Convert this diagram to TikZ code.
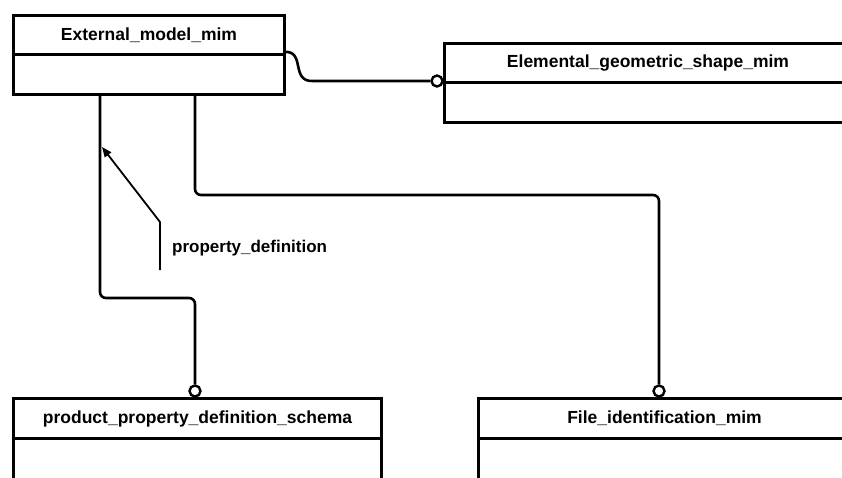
\documentclass[tikz,border=0pt]{standalone}
\usepackage{fontspec}
\setmainfont{Liberation Sans}
\usetikzlibrary{arrows.meta}
\begin{document}
\begin{tikzpicture}[x=1pt,y=-1pt,
  hdr/.style={draw=black,line width=3pt,rectangle,inner sep=0pt,anchor=north west,
    font=\fontsize{17.5}{19}\selectfont\bfseries},
  bdy/.style={draw=black,line width=3pt,rectangle,inner sep=0pt,anchor=north west},
  link/.style={draw=black,line width=2.6pt,rounded corners=6pt},
  ring/.style={circle,draw=black,fill=white,line width=2.4pt,inner sep=0pt,minimum size=11pt},
  lbl/.style={font=\fontsize{17}{19}\selectfont\bfseries,inner sep=0pt,anchor=west}]
\useasboundingbox (0,0) rectangle (842,477);
\fill[white] (0,0) rectangle (842,477);
% External_model_mim
\node[bdy,minimum width=271pt,minimum height=40pt] (extb) at (12,53) {};
\node[hdr,minimum width=271pt,minimum height=39pt] (ext) at (12,14) {External\_model\_mim};
% Elemental_geometric_shape_mim
\node[bdy,minimum width=407pt,minimum height=40pt] (egb) at (443,81) {};
\node[hdr,minimum width=407pt,minimum height=39pt] (eg) at (443,42) {Elemental\_geometric\_shape\_mim};
% product_property_definition_schema
\node[bdy,minimum width=368pt,minimum height=60pt] (ppb) at (12,437) {};
\node[hdr,minimum width=368pt,minimum height=40pt] (pp) at (12,397) {product\_property\_definition\_schema};
% File_identification_mim
\node[bdy,minimum width=372pt,minimum height=60pt] (fib) at (477,437) {};
\node[hdr,minimum width=372pt,minimum height=40pt] (fi) at (477,397) {File\_identification\_mim};
% rings
\node[ring] (r1) at (437,81) {};
\node[ring] (r2) at (195,391) {};
\node[ring] (r3) at (659,391) {};
% connectors
\coordinate (s1) at (284,52);
\coordinate (s2) at (313,81);
\draw[line width=2.6pt] (s1) .. controls (306,50) and (290,82) .. (s2) -- (r1.west);
\coordinate (a0) at (195,94);
\coordinate (a1) at (195,195);
\coordinate (a2) at (659,195);
\draw[link] (a0) -- (a1) -- (a2) -- (r3.north);
\coordinate (b0) at (100,94);
\coordinate (b1) at (100,298);
\coordinate (b2) at (195,298);
\draw[link] (b0) -- (b1) -- (b2) -- (r2.north);
% label leader
\coordinate (t0) at (102,147);
\coordinate (t1) at (160,222);
\coordinate (t2) at (160,270);
\draw[line width=1.8pt,-{Triangle[length=10pt,width=8pt]}] (t2) -- (t1) -- (t0);
\node[lbl] (pd) at (172,248) {property\_definition};
\end{tikzpicture}
\end{document}
